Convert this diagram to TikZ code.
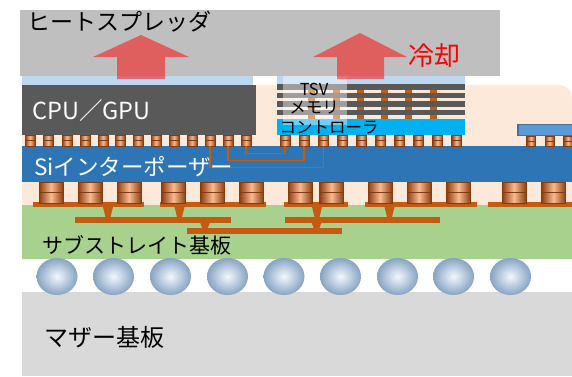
\documentclass[tikz,border=0pt]{standalone}
\usepackage{fontspec}
\setmainfont{Noto Sans CJK JP}
\definecolor{spreader}{HTML}{BFBFBF}
\definecolor{tim}{HTML}{BDD7EE}
\definecolor{mold}{HTML}{FCE9DA}
\definecolor{chip}{HTML}{595959}
\definecolor{ctrl}{HTML}{00B0F0}
\definecolor{interposer}{HTML}{2E75B6}
\definecolor{substrate}{HTML}{A9D18E}
\definecolor{board}{HTML}{D9D9D9}
\definecolor{wiring}{HTML}{C55A11}
\definecolor{copperD}{HTML}{8E3E10}
\definecolor{copperL}{HTML}{F8BA92}
\definecolor{bumpedge}{HTML}{843C0C}
\definecolor{smallpart}{HTML}{5B9BD5}
\definecolor{smalledge}{HTML}{41719C}
\definecolor{ballin}{HTML}{F2F8FD}
\definecolor{ballout}{HTML}{87A3C3}
\tikzset{
  fs/.style={font=\fontsize{#1}{#1}\selectfont},
  lbl/.style={inner sep=0pt, anchor=west},
  pillar/.style={rectangle, inner sep=0pt, draw=bumpedge, line width=0.8pt,
    left color=copperD, right color=copperD, middle color=copperL,
    path picture={\draw[bumpedge, line width=0.8pt]
      (path picture bounding box.west) -- (path picture bounding box.east);}},
  ubump/.style={pillar, minimum width=10pt, minimum height=11pt},
  sbump/.style={pillar, minimum width=9pt, minimum height=10pt},
  cbump/.style={pillar, minimum width=24pt, minimum height=21pt, line width=1pt},
  wire/.style={draw=wiring, line width=1.4pt},
  heat/.style={fill=red, fill opacity=0.5},
  ball/.style={inner color=ballin, outer color=ballout},
}
\begin{document}
\begin{tikzpicture}[x=1pt, y=-1pt]
\path[use as bounding box, clip] (0,0) rectangle (572,376);
\fill[white] (0,0) rectangle (572,376);

% heat spreader
\fill[spreader] (20,10) rectangle (500,76);
\node[lbl, fs=23] (hs) at (27,22) {ヒートスプレッダ};

% mold / underfill region with rounded top-right corner
\fill[mold] (22,259) -- (22,85) {[rounded corners=13pt] -- (572,85) -- (572,259)} -- cycle;

% thermal interface layers
\fill[tim] (22,76) rectangle (253,85);
\fill[tim] (277,76) rectangle (465,84);

% logic die
\fill[chip] (22,85) rectangle (256,135);
\node[lbl, fs=23.5, text=white] (cpu) at (32,111) {CPU／GPU};

% stacked memory with TSVs
\foreach \x in {311.5,336.5,360,384,408,433}
  \fill[wiring] (\x-3.5,84) rectangle (\x+3.5,119);
\foreach \y in {84,92.5,101,109.5}
  \fill[chip] (277,\y) rectangle (465,\y+5.5);
\fill[ctrl] (277,119) rectangle (465,135);
\fill[white, fill opacity=0.42] (283,76) rectangle (347,125);
\node[fs=16.5, inner sep=0pt] (tsv) at (314,89) {TSV};
\node[fs=16.5, inner sep=0pt] (mem) at (314,108) {メモリ};
\node[fs=16.5, inner sep=0pt] (ctl) at (329,127.5) {コントローラ};

% heat flow arrows
\fill[heat] (141,35) -- (189,57) -- (165,57) -- (165,79) -- (117,79) -- (117,57) -- (93,57) -- cycle;
\fill[heat] (360,33) -- (407,57) -- (384,57) -- (384,79) -- (337,79) -- (337,57) -- (313,57) -- cycle;
\node[fs=26, text=red, inner sep=0pt] (cool) at (434,56) {冷却};

% small passive part
\fill[smallpart, draw=smalledge, line width=1.5pt] (518,124.5) rectangle (590,135.5);

% interposer
\fill[interposer] (22,146) rectangle (572,182);

% micro bumps
\foreach \x [count=\i] in {30,48,67,85,103,120,138,156,174,192,210,228,246}
  \node[ubump] (c\i) at (\x,140.5) {};
\foreach \x [count=\i] in {285,304,323.5,342.5,361.5,380.5,399.5,418.5,437.5,456.5}
  \node[ubump] (m\i) at (\x,140.5) {};
\foreach \x [count=\i] in {531,549.5,568}
  \node[sbump] (p\i) at (\x,141) {};

% interposer routing between logic die and memory
\draw[wire] (c13.south) -- ++(0,7) -| (m1.south);
\draw[wire] (c12.south) -- ++(0,14) -| (m2.south);
\draw[wire] (c11.south) -- ++(0,21) -| (m3.south);

\node[lbl, fs=22.5, text=white] (si) at (34,167) {Siインターポーザー};

% package substrate
\fill[substrate] (22,205) rectangle (572,259);

% substrate wiring: vias
\foreach \x in {108,179.5,317,389.5}
  \fill[wiring] (\x-5.5,205) -- (\x+5.5,205) -- (\x+2.5,217) -- (\x-2.5,217) -- cycle;
\foreach \x in {205,316.5}
  \fill[wiring] (\x-5.5,221) -- (\x+5.5,221) -- (\x+2.5,229) -- (\x-2.5,229) -- cycle;
% substrate wiring: layers
\foreach \a/\b in {33/144,160/266,284/348,365/477,488/580}
  \fill[wiring] (\a,202) rectangle (\b,207);
\foreach \a/\b in {75/231,285/440}
  \fill[wiring] (\a,216.5) rectangle (\b,222.5);
\fill[wiring] (187,228) rectangle (342,234);

% C4 bumps
\foreach \x [count=\i] in {51,90,129,173.5,212.5,251.5,300,331.5,380,419,458.5,514,553.5}
  \node[cbump] (b\i) at (\x,192.5) {};

\node[lbl, fs=21, inner sep=0pt] (sub) at (42,245) {サブストレイト基板};

% mother board
\fill[board] (22,292) rectangle (572,376);
\node[lbl, fs=24] (mb) at (44,337) {マザー基板};

% BGA balls
\foreach \x in {57,113.5,170.5,227.5,284,340.5,397.5,453.5,510.5}
  \shade[ball] (\x,276.5) ellipse [x radius=20.5pt, y radius=18.5pt];
\end{tikzpicture}
\end{document}
